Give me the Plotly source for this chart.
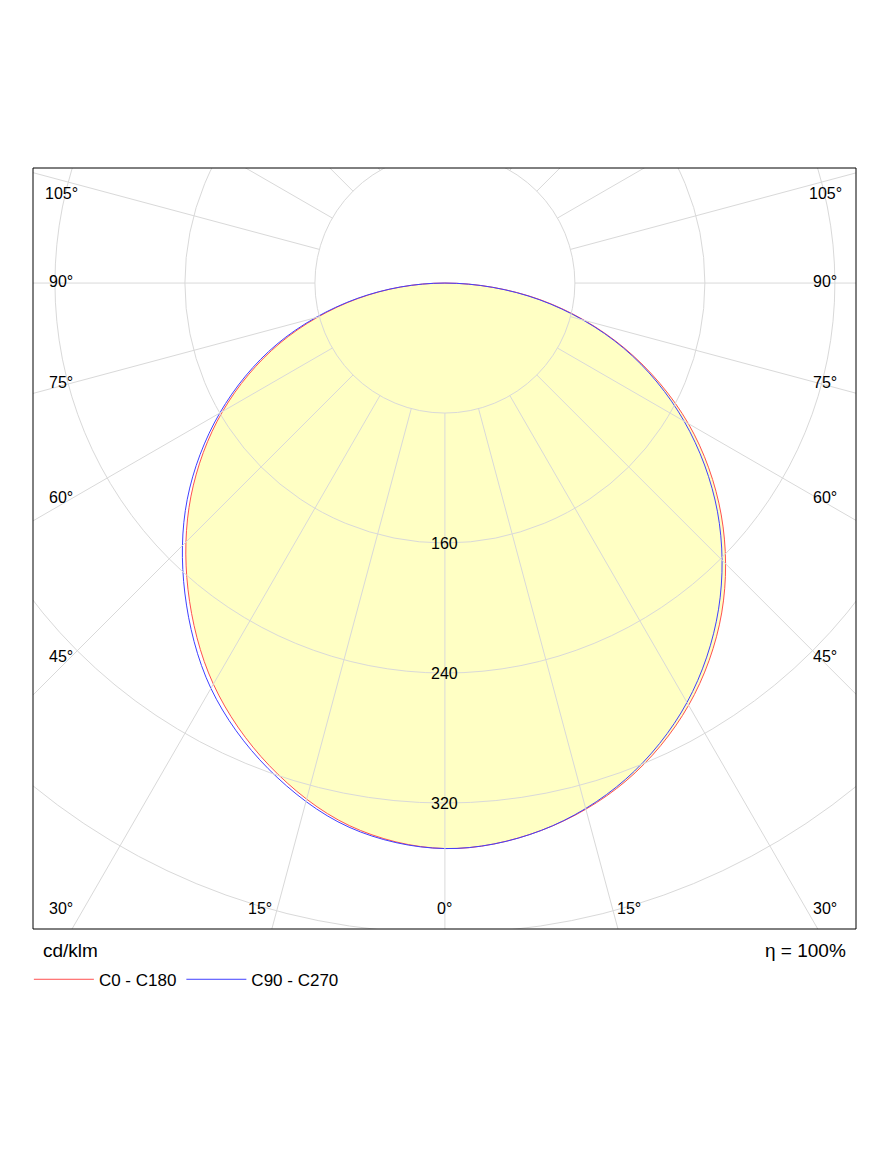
import numpy as np
import plotly.graph_objects as go

# luminous intensity, cd/klm, gamma 0..90 in 10 degree steps
angles = [0, 10, 20, 30, 40, 50, 60, 70, 80, 90]
c0 = [348, 342, 326, 300, 265, 222, 173, 118, 60, 0]
c180 = [348, 339, 316, 285, 246, 204, 158, 108, 54, 0]
c90 = [348, 342, 325, 298, 262, 219, 170, 117, 59, 0]
c270 = [348, 340, 318, 288, 249, 207, 160, 110, 55, 0]

rings = [80, 160, 240, 320, 400, 480, 560]
ring_labels = [160, 240, 320]
spokes = list(range(0, 360, 15))

# angle labels along the frame: (text, x, y) in cd/klm units
edge_labels = [
    ("105°", -236, 55), ("90°", -236, 1), ("75°", -236, -61),
    ("60°", -236, -132), ("45°", -236, -230), ("30°", -236, -385),
    ("15°", -114, -385), ("0°", 0, -385), ("15°", 113, -385),
    ("30°", 234, -385), ("45°", 234, -230), ("60°", 234, -132),
    ("75°", 234, -61), ("90°", 234, 1), ("105°", 234, 55),
]

GRID = "#d9d9d9"
FONT = "Liberation Sans, Arial, sans-serif"


def curve(left, right):
    """Polar half-planes -> xy, traced left 90 -> 0 -> right 90."""
    a = np.radians(angles)
    xl = -np.array(left) * np.sin(a)
    yl = -np.array(left) * np.cos(a)
    xr = np.array(right) * np.sin(a)
    yr = -np.array(right) * np.cos(a)
    return np.r_[xl[::-1], xr[1:]], np.r_[yl[::-1], yr[1:]]


fig = go.Figure()

x_red, y_red = curve(c180, c0)
x_blue, y_blue = curve(c270, c90)

fig.add_trace(go.Scatter(x=x_red, y=y_red, mode="lines", fill="toself",
                         fillcolor="#ffffc4", line=dict(color="rgba(0,0,0,0)", shape="spline"),
                         showlegend=False, hoverinfo="skip"))

# grid on top of the fill
for r in rings:
    fig.add_shape(type="circle", x0=-r, x1=r, y0=-r, y1=r,
                  line=dict(color=GRID, width=1), layer="above")
for s in spokes:
    t = np.radians(s)
    fig.add_shape(type="line", x0=80 * np.sin(t), y0=-80 * np.cos(t),
                  x1=800 * np.sin(t), y1=-800 * np.cos(t),
                  line=dict(color=GRID, width=1), layer="above")

fig.add_trace(go.Scatter(x=x_red, y=y_red, mode="lines", name="C0 - C180",
                         line=dict(color="#ff5050", width=1, shape="spline")))
fig.add_trace(go.Scatter(x=x_blue, y=y_blue, mode="lines", name="C90 - C270",
                         line=dict(color="#4040ff", width=1, shape="spline")))

for r in ring_labels:
    fig.add_annotation(x=0, y=-r, text=str(r), showarrow=False,
                       font=dict(size=16, color="black", family=FONT))
for txt, x, y in edge_labels:
    fig.add_annotation(x=x, y=y, text=txt, showarrow=False,
                       font=dict(size=16, color="black", family=FONT))

fig.add_annotation(xref="paper", yref="paper", x=0.01, y=-0.012, xanchor="left",
                   yanchor="top", text="cd/klm", showarrow=False,
                   font=dict(size=19, color="black", family=FONT))
fig.add_annotation(xref="paper", yref="paper", x=0.99, y=-0.012, xanchor="right",
                   yanchor="top", text="η = 100%", showarrow=False,
                   font=dict(size=19, color="black", family=FONT))

fig.add_shape(type="rect", xref="paper", yref="paper", x0=0, x1=1, y0=0, y1=1,
              line=dict(color="black", width=1), layer="above")

fig.update_xaxes(range=[-253.5, 253], visible=False, showgrid=False)
fig.update_yaxes(range=[-397.5, 70.8], visible=False, showgrid=False)

fig.update_layout(
    width=875, height=1166,
    margin=dict(l=25, r=27, t=160, b=245),
    paper_bgcolor="white", plot_bgcolor="white",
    legend=dict(orientation="h", x=-0.005, y=-0.043, xanchor="left", yanchor="top",
                font=dict(size=17, color="black", family=FONT), itemwidth=60),
)

fig.write_html("out.html")
